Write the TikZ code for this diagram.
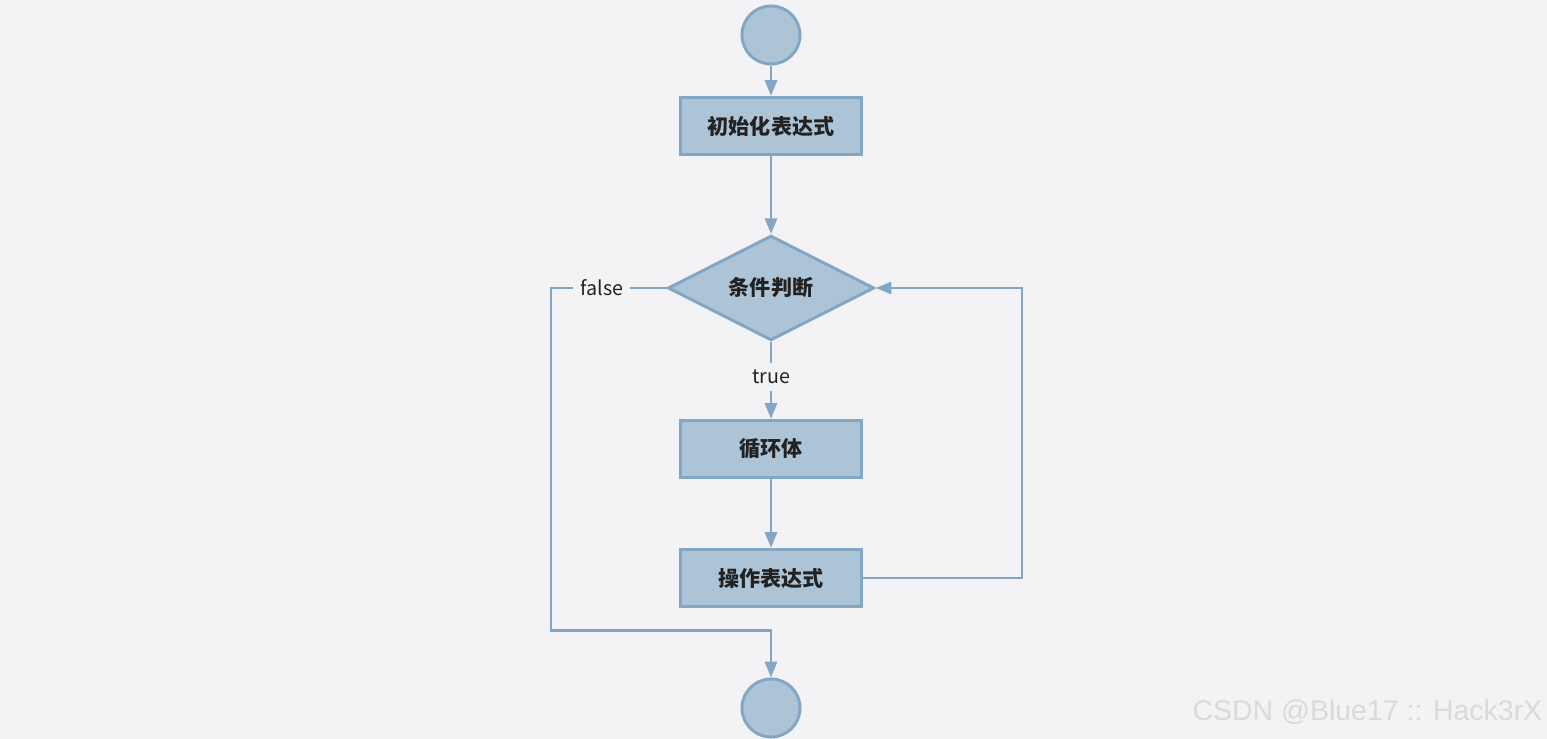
\documentclass[tikz,border=0pt]{standalone}
\usepackage{fontspec}
\setmainfont{Noto Sans CJK SC}
\newfontfamily\wmfont{Liberation Sans}
\usepackage{xcolor}
\usepackage{tikz}
\usetikzlibrary{arrows.meta,shapes.geometric}
\definecolor{bgc}{RGB}{243,243,245}
\definecolor{boxc}{RGB}{173,196,215}
\definecolor{linec}{RGB}{130,166,196}
\definecolor{txtc}{RGB}{34,34,34}
\definecolor{wmc}{RGB}{218,218,220}

\begin{document}
\begin{tikzpicture}[x=0.01cm,y=-0.01cm,
  flow/.style={draw=linec,line width=0.85pt,-{Triangle[length=4.5pt,width=3.4pt]}},
  procbox/.style={rectangle,draw=linec,fill=boxc,line width=0.85pt,minimum width=1.8cm,minimum height=0.57cm,inner sep=0pt,text=txtc,font=\fontsize{6}{7}\selectfont\bfseries},
  termc/.style={circle,draw=linec,fill=boxc,line width=0.85pt,minimum size=0.58cm,inner sep=0pt},
  decide/.style={diamond,draw=linec,fill=boxc,line width=0.85pt,minimum width=2.06cm,minimum height=1.03cm,inner sep=0pt,text=txtc,font=\fontsize{6}{7}\selectfont\bfseries},
  lbl/.style={fill=bgc,inner sep=2pt,text=txtc,font=\fontsize{5.6}{7}\selectfont}]
% canvas
\useasboundingbox[fill=bgc] (0,0) rectangle (1547,739);
% nodes (pixel grid, y downwards)
\node[termc] (start) at (771,35) {};
\node[procbox] (init) at (771,126) {初始化表达式};
\node[decide] (cond) at (771,288) {条件判断};
\node[procbox] (body) at (771,449) {循环体};
\node[procbox] (step) at (771,578) {操作表达式};
\node[termc] (stop) at (771,708) {};
% bend points of the two loops
\coordinate (lowbend) at (551,630);
\coordinate (rbend) at (1022,578);
% connectors
\draw[flow] (start) -- (init);
\draw[flow] (init) -- (cond.north);
\draw[flow] (cond.south) -- node[lbl,pos=0.45]{true} (body);
\draw[flow] (body) -- (step);
\draw[flow] (step.east) -- (rbend) |- (cond.east);
\draw[flow] (cond.west) -| node[lbl,pos=0.28]{false} (lowbend) -| (stop.north);
% watermark
\node[anchor=east,inner sep=0pt,text=wmc,font=\wmfont\fontsize{8.1}{9}\selectfont] (wm) at (1543,712) {CSDN @Blue17 :: Hack3rX};
\end{tikzpicture}
\end{document}
